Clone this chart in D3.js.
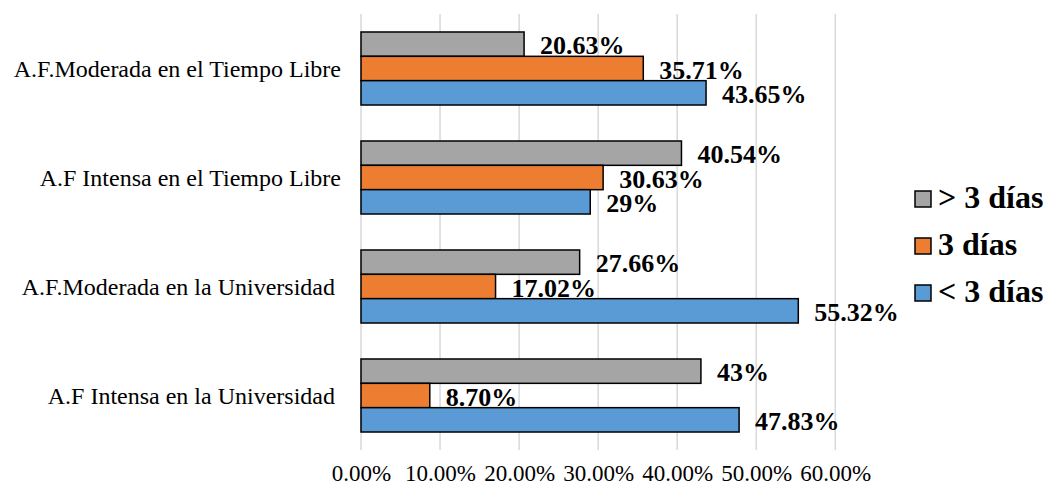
<!DOCTYPE html>
<html>
<head>
<meta charset="utf-8">
<script src="https://cdn.jsdelivr.net/npm/d3@7"></script>
<style>
  html, body { margin: 0; padding: 0; background: #fff; }
  svg { display: block; }
  text { font-family: "Liberation Serif", "Times New Roman", serif; fill: #000; }
</style>
</head>
<body>
<svg id="chart" width="1047" height="487"></svg>
<script>
// Activity categories, drawn top to bottom
const categories = [
  "A.F.Moderada en el Tiempo Libre",
  "A.F Intensa en el Tiempo Libre",
  "A.F.Moderada en la Universidad ",
  "A.F Intensa en la Universidad "
];

// Series (legend order, also top-to-bottom order inside each group)
const seriesNames = ["> 3 días", "3 días", "< 3 días"];
const seriesColors = ["#a5a5a5", "#ed7d31", "#5b9bd5"];

// Percentages per series, one value per category
const masDe3 = [20.63, 40.54, 27.66, 43];
const igual3 = [35.71, 30.63, 17.02, 8.70];
const menosDe3 = [43.65, 29, 55.32, 47.83];

// Data label texts as printed next to each bar
const masDe3Labels = ["20.63%", "40.54%", "27.66%", "43%"];
const igual3Labels = ["35.71%", "30.63%", "17.02%", "8.70%"];
const menosDe3Labels = ["43.65%", "29%", "55.32%", "47.83%"];

// Axis ticks
const tickValues = [0, 10, 20, 30, 40, 50, 60];
const tickLabels = ["0.00%", "10.00%", "20.00%", "30.00%", "40.00%", "50.00%", "60.00%"];

const seriesValues = [masDe3, igual3, menosDe3];
const seriesLabels = [masDe3Labels, igual3Labels, menosDe3Labels];

const svg = d3.select("#chart");

const plot = { left: 361, right: 835.3, top: 14, bottom: 450 };

const x = d3.scaleLinear().domain([0, 60]).range([plot.left, plot.right]);

const y = d3.scaleBand()
  .domain(categories)
  .range([plot.top, plot.bottom])
  .paddingInner(0.33)
  .paddingOuter(0.165);

const ySeries = d3.scaleBand()
  .domain(seriesNames)
  .range([0, y.bandwidth()])
  .padding(0);

// Vertical gridlines
svg.append("g")
  .selectAll("line")
  .data(tickValues)
  .join("line")
  .attr("x1", d => x(d))
  .attr("x2", d => x(d))
  .attr("y1", plot.top)
  .attr("y2", plot.bottom)
  .attr("stroke", "#d9d9d9")
  .attr("stroke-width", 1.5);

// Bottom axis labels
const xAxis = d3.axisBottom(x)
  .tickValues(tickValues)
  .tickFormat((d, i) => tickLabels[i])
  .tickSize(0)
  .tickPadding(0);

const gx = svg.append("g")
  .attr("transform", `translate(0, 481)`)
  .call(xAxis);
gx.select(".domain").remove();
gx.selectAll("text")
  .attr("y", 0)
  .attr("dy", null)
  .style("font-family", '"Liberation Serif", "Times New Roman", serif')
  .style("font-size", "23px")
  .attr("fill", "#000");

// Category labels
svg.append("g")
  .selectAll("text")
  .data(categories)
  .join("text")
  .attr("x", 341)
  .attr("y", d => y(d) + y.bandwidth() / 2 + 8)
  .attr("text-anchor", "end")
  .style("white-space", "pre")
  .style("font-size", "24px")
  .text(d => d);

// Bars
const rows = [];
seriesNames.forEach((s, si) => {
  categories.forEach((c, ci) => {
    rows.push({ series: s, si, cat: c, value: seriesValues[si][ci], label: seriesLabels[si][ci] });
  });
});

svg.append("g")
  .selectAll("rect")
  .data(rows)
  .join("rect")
  .attr("x", x(0))
  .attr("y", d => y(d.cat) + ySeries(d.series))
  .attr("width", d => x(d.value) - x(0))
  .attr("height", ySeries.bandwidth())
  .attr("fill", d => seriesColors[d.si])
  .attr("stroke", "#000")
  .attr("stroke-width", 1.5);

// Data labels
svg.append("g")
  .selectAll("text")
  .data(rows)
  .join("text")
  .attr("x", d => x(d.value) + 16)
  .attr("y", d => y(d.cat) + ySeries(d.series) + ySeries.bandwidth() / 2 + 10)
  .style("font-size", "26px")
  .style("font-weight", "bold")
  .text(d => d.label);

// Legend
const legend = svg.append("g")
  .selectAll("g")
  .data(seriesNames)
  .join("g")
  .attr("transform", (d, i) => `translate(915, ${199 + i * 47})`);

legend.append("rect")
  .attr("x", 0)
  .attr("y", -8)
  .attr("width", 16)
  .attr("height", 16)
  .attr("fill", (d, i) => seriesColors[i])
  .attr("stroke", "#000")
  .attr("stroke-width", 1.5);

legend.append("text")
  .attr("x", 23)
  .attr("y", 9)
  .style("font-size", "32px")
  .style("font-weight", "bold")
  .text(d => d);
</script>
</body>
</html>
